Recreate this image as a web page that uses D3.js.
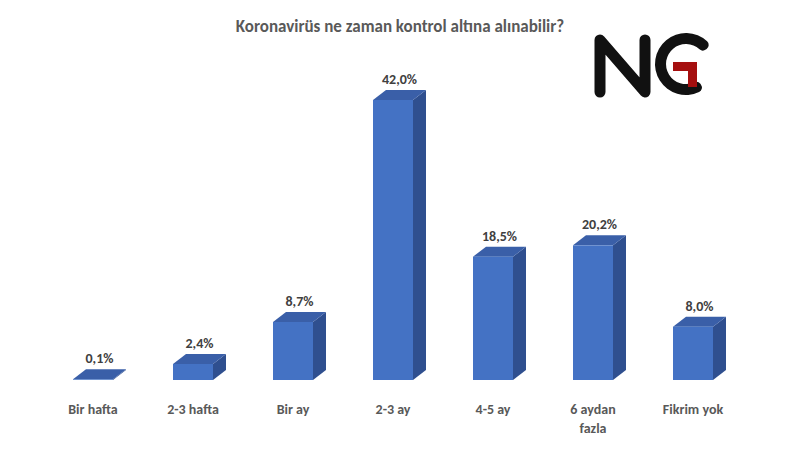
<!DOCTYPE html>
<html><head><meta charset="utf-8">
<script src="https://cdn.jsdelivr.net/npm/d3@7"></script>
<style>body{margin:0;background:#fff}svg{display:block}</style>
</head><body>
<svg id="chart" width="800" height="453"></svg>
<script>
var categories = [["Bir hafta"], ["2-3 hafta"], ["Bir ay"], ["2-3 ay"], ["4-5 ay"], ["6 aydan", "fazla"], ["Fikrim yok"]];
var values = [0.1, 2.4, 8.7, 42.0, 18.5, 20.2, 8.0];
var title = "Koronavirüs ne zaman kontrol altına alınabilir?";

var svg = d3.select("#chart");
var font = "Calibri, Carlito, 'Open Sans', sans-serif";

var x = d3.scaleBand().domain(d3.range(values.length)).range([43, 743]).paddingInner(0.6).paddingOuter(0.3);
var y = d3.scaleLinear().domain([0, 42]).range([380, 100]);
var dx = 13, dy = 10;

svg.append("text").attr("x", 400).attr("y", 32).attr("text-anchor", "middle")
  .attr("font-family", font).attr("font-size", 17).attr("font-weight", "bold").attr("fill", "#595959").text(title);

var g = svg.selectAll("g.bar").data(values).enter().append("g");
g.append("path").attr("fill", "#2f4f8f").attr("d", function(d, i) {
  var x0 = x(i), x1 = x0 + x.bandwidth(), yt = y(d), yb = y(0);
  return "M" + x1 + "," + yb + "L" + (x1 + dx) + "," + (yb - dy) + "L" + (x1 + dx) + "," + (yt - dy) + "L" + x1 + "," + yt + "Z";
});
g.append("path").attr("fill", "#3a5fa8").attr("d", function(d, i) {
  var x0 = x(i), x1 = x0 + x.bandwidth(), yt = y(d);
  return "M" + x0 + "," + yt + "L" + (x0 + dx) + "," + (yt - dy) + "L" + (x1 + dx) + "," + (yt - dy) + "L" + x1 + "," + yt + "Z";
});
g.append("rect").attr("fill", "#4472c4")
  .attr("x", function(d, i) { return x(i); }).attr("width", x.bandwidth())
  .attr("y", function(d) { return y(d); }).attr("height", function(d) { return y(0) - y(d); });
g.append("text").attr("text-anchor", "middle").attr("font-family", font).attr("font-size", 14)
  .attr("font-weight", "bold").attr("fill", "#404040")
  .attr("x", function(d, i) { return x(i) + x.bandwidth() / 2 + dx / 2; })
  .attr("y", function(d) { return y(d) - dy - 6; })
  .text(function(d) { return d.toFixed(1).replace(".", ",") + "%"; });

var lab = svg.selectAll("text.cat").data(categories).enter().append("text")
  .attr("text-anchor", "middle").attr("font-family", font).attr("font-size", 14)
  .attr("font-weight", "bold").attr("fill", "#595959")
  .attr("x", function(d, i) { return x(i) + x.bandwidth() / 2; }).attr("y", 414);
lab.selectAll("tspan").data(function(d) { return d; }).enter().append("tspan")
  .attr("x", function() { return d3.select(this.parentNode).attr("x"); })
  .attr("dy", function(d, j) { return j ? 19 : 0; }).text(function(d) { return d; });

// NG logo
var logo = svg.append("g");
logo.append("path").attr("d", "M600,92L600,40L645,92L645,40").attr("fill", "none")
  .attr("stroke", "#111").attr("stroke-width", 11).attr("stroke-linecap", "round").attr("stroke-linejoin", "round");
logo.append("path").attr("d", d3.arc().cornerRadius(5)({innerRadius: 20, outerRadius: 31, startAngle: Math.PI * 0.8, endAngle: Math.PI * 2.3}))
  .attr("transform", "translate(686,64)").attr("fill", "#111");
logo.append("path").attr("d", "M673,62L697,62L697,87L688,87L688,71L673,71Z").attr("fill", "#a50f0f");
</script>
</body></html>
